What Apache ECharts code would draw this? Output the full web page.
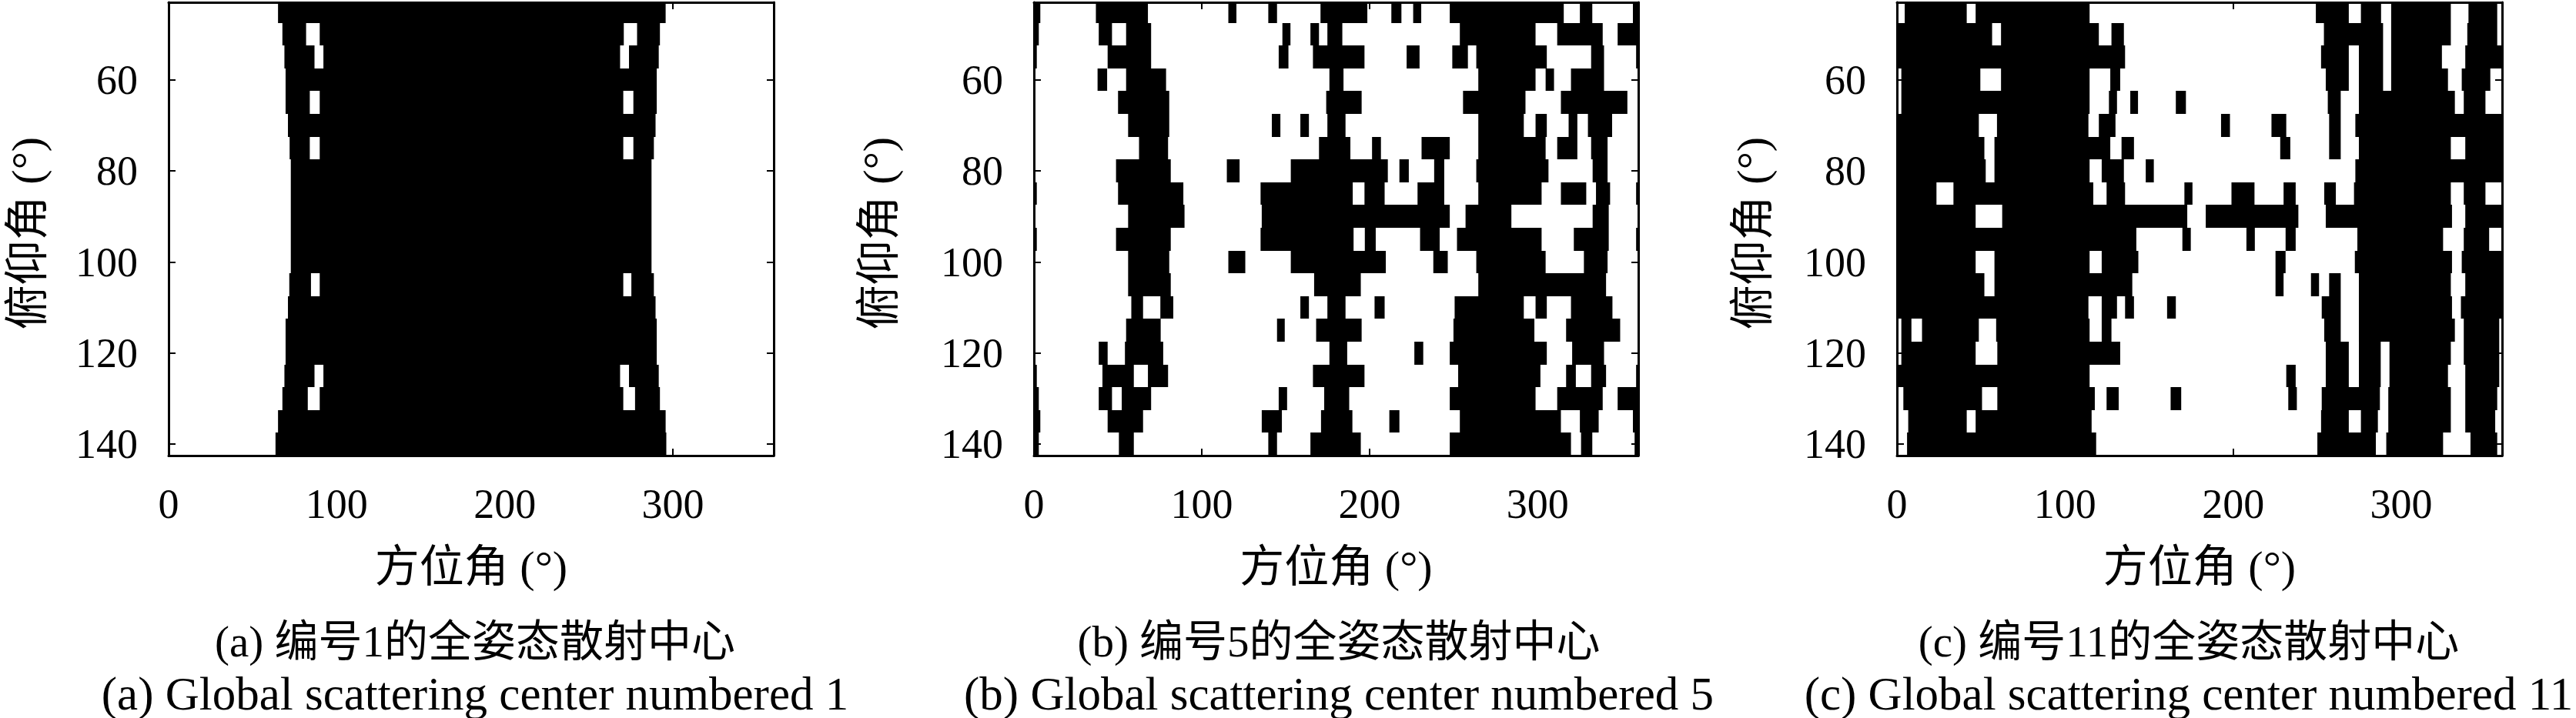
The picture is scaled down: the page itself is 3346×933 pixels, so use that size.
<!DOCTYPE html>
<html><head><meta charset="utf-8"><style>html,body{margin:0;padding:0;background:#fff}#c{width:3346px;height:933px}</style>
<script src="https://cdn.jsdelivr.net/npm/echarts@6/dist/echarts.min.js"></script></head>
<body><div id="c"></div><script>
const pitchRows=[45,50,55,60,65,70,75,80,85,90,95,100,105,110,115,120,125,130,135,140];
const azimuthTicks=[0,100,200,300];
const pitchTicks=[60,80,100,120,140];
const xName='方位角 (°)', yName='俯仰角 (°)';
const captionsZh=['(a) 编号1的全姿态散射中心','(b) 编号5的全姿态散射中心','(c) 编号11的全姿态散射中心'];
const captionsEn=['(a) Global scattering center numbered 1','(b) Global scattering center numbered 5','(c) Global scattering center numbered 11'];
// Black azimuth spans [start,end,start,end,...] for each pitch row
const panelA=[
[65.1,295.7],
[67.7,81.8,89.9,270.8,278.7,292.3],
[68.9,86.8,92.1,268.6,273.9,291.6],
[69.6,290.4],
[69.6,84,89.9,270.5,276.5,290.4],
[71,289.7],
[72,84,89.9,270.5,276.5,288.7],
[72.7,287.3],[72.7,287.3],[72.7,287.3],[72.7,287.3],[72.7,287.3],
[71.8,84.7,89.9,270.5,275.3,288.7],
[71,289.7],
[69.6,290.4],
[69.6,290.4],
[68.9,86.8,92.1,268.6,273.9,291.6],
[67.7,82.8,89.9,270.5,277.5,292.3],
[65.1,295.7],
[63.6,296.1]];
const panelB=[
[0,3.8,36.9,67.9,115.8,120.6,139.6,144.8,170.7,198.6,212.9,218.9,225.9,230.7,247.7,315.6,325.2,332.6,356.8,360],
[0,2.9,38.6,46.5,54.9,69.8,148,152.8,164.7,169.8,174.8,183.7,253.7,298.8,311.7,338.8,347.7,360],
[0,1.7,43.9,69.8,145.8,151.6,166.2,196.9,222,229.7,249.2,258.5,263.5,305.5,331.9,339.6,358.7,360],
[37.9,43.6,54.9,78.7,176,184.4,264.7,298.8,304.8,309.8,319.9,339.6],
[50.1,80.6,174.1,195.2,255.6,292.8,313.9,353.5],
[56.1,80.6,141.7,146.8,158.7,163.8,174.8,185.6,264.7,291.8,298.8,305.5,318.5,323.7,330,344.4],
[62.6,79.9,169.8,188.5,201.4,206.7,230.9,247.7,264.7,304.8,311.7,323.7,331.9,341.7],
[48.9,81.5,114.9,122.5,153,210.8,217.7,223.3,238.4,244.4,263.5,306.5,332.8,341.7],
[0,1.7,50.1,89,135,189.9,196.9,208.9,228.5,244.4,264.7,302.4,313.9,329,334.8,343.2,358.7,360],
[56.1,89.7,135.7,247.7,257.1,284.4,332.8,342.4],
[0,1.7,48.9,81.5,135,190.4,197.1,203.6,230,241.7,252,302.4,321.6,342.4,358.7,360],
[56.1,80.6,115.8,125.9,153,209.6,237.9,246.5,263.5,304.8,327.6,341.7],
[56.1,81.5,166.9,194.7,264.7,340.8],
[58,65,75.3,83,158.7,163.8,174.8,185.6,202.9,208.9,250.6,291.8,298.8,305.5,319.9,344.6],
[54.9,75.5,144.8,149.4,168.1,195.2,249.9,298.1,317,349.2],
[38.6,43.9,54.2,77,176,186.6,226.6,231.9,247.7,305.5,320.6,339.6],
[0,1.7,40.8,59.5,67.9,79.9,166.2,196.9,252.7,301.7,317,322.8,331.9,340.8,358.7,360],
[0,2.9,38.6,46.5,52.3,69.8,145.8,150.8,172.9,187.8,247.7,298.8,311.7,338.8,347.7,360],
[0,3.8,43.9,65,135.7,147.7,171,189.7,211.7,217.7,253.7,313.9,325.2,336.4,356.8,360],
[0,2.9,50.6,59.5,139.6,144.8,164.7,194.7,247.7,319.9,325.9,332.6,357.8,360]];
const panelC=[
[4.6,41.5,46.8,114.6,249.2,268.8,276,288,294,329.5,340,357.1],
[0,56.6,61.9,120.1,127.6,135,254,289.2,294,329.5,339.3,357.1],
[0,135.7,252.3,268.8,274.8,289.2,294,324.2,338.1,360],
[2.6,49.6,61.9,114.6,126.9,132.8,255.1,268.8,274.8,289.2,294,327.8,336,353],
[2.6,114.6,126.1,130.9,138.8,143.4,165.9,171.9,256.3,264,274.8,331.9,337.2,350.1],
[0,48.7,59.5,113.9,120.1,130,192.8,198.1,222.8,231.6,257.1,264,272.7,360],
[0,52,58,126.9,133.6,141,228,234,257.1,264,274.8,329.5,338.1,360],
[0,52.8,58,114.6,121.8,135,148,152.8,272.7,360],
[0,23.5,33.6,116.8,124.7,135.7,171,175.8,199,212.7,230,237.2,254.2,261.1,271.9,329.5,337.2,350.1],
[0,46.8,62.6,172.7,183.7,238.8,255.1,330.2,338.1,360],
[0,142.4,169.8,174.8,207.9,212.9,231.2,237.2,273.9,324.9,337.2,352.3],
[0,46.8,58,114.6,121.8,143.6,225.2,231.2,272.4,330.2,336,360],
[0,52,58,140,225.2,230,246.3,251.1,257.1,264,274.8,329.5,338.1,360],
[0,113.9,121.8,130.9,135.7,141,160.7,165.9,252.7,264,274.8,330.2,335.5,360],
[2.6,8.6,14.9,48.7,59,114.6,121.8,127.6,254.2,264,274.8,331.9,337.2,358.3],
[2.6,46.8,59.7,132.8,255.1,268.8,274.8,287.8,293,329.5,337.2,358.3],
[0,114.6,231.6,237.2,255.1,268.8,274.8,287.8,293,327.8,338.1,358.3],
[3.8,50.6,59.7,117.7,124.7,131.9,162.8,169.1,232.8,237.9,252.7,287.3,292.3,329.5,338.1,357.1],
[6.7,41.5,46.8,115.8,252.3,268.8,276,286.1,292.3,329.5,338.1,355.9],
[6,118.5,250.1,284.9,291.1,324.9,341.2,357.1]];
const panels=[panelA,panelB,panelC];

const FONT='"Liberation Serif","Noto Sans CJK SC",serif';
const plotLeft=[219,1343,2464], plotW=[786,785,786], plotTop=3, plotH=589;
const capX=[612,1734,2838], nameY=[40,1146,2281];
const tickStyle={show:true,inside:true,length:9,lineStyle:{color:'#000',width:2}};
const grids=[],xAxes=[],yAxes=[],series=[],titles=[];
function spans(rows){const out=[];rows.forEach((r,i)=>{for(let k=0;k<r.length;k+=2)out.push([pitchRows[i],r[k],r[k+1]]);});return out;}
panels.forEach((rows,p)=>{
  grids.push({left:plotLeft[p],top:plotTop,width:plotW[p],height:plotH,containLabel:false});
  const line={show:true,onZero:false,lineStyle:{color:'#000',width:3}};
  const xBase={type:'value',gridIndex:p,min:0,max:360,z:10,splitLine:{show:false},axisLine:line,
    axisTick:{...tickStyle,customValues:azimuthTicks}};
  const yBase={type:'value',gridIndex:p,min:43,max:142.5,inverse:true,z:10,splitLine:{show:false},axisLine:line,
    axisTick:{...tickStyle,customValues:pitchTicks}};
  xAxes.push({...xBase,position:'bottom',
    axisLabel:{show:true,customValues:azimuthTicks,fontFamily:FONT,fontSize:54,color:'#000',margin:40},
    name:xName,nameLocation:'middle',nameGap:120,nameTextStyle:{fontFamily:FONT,fontSize:58,color:'#000'}});
  xAxes.push({...xBase,position:'top',axisLabel:{show:false}});
  yAxes.push({...yBase,position:'left',
    axisLabel:{show:true,customValues:pitchTicks,fontFamily:FONT,fontSize:54,color:'#000',margin:40,verticalAlign:'top',lineHeight:54,padding:[-23,0,0,0]}});
  yAxes.push({...yBase,position:'right',axisLabel:{show:false}});
  series.push({type:'custom',xAxisIndex:p*2,yAxisIndex:p*2,z:2,clip:true,silent:true,animation:false,
    data:spans(rows),encode:{x:[1,2],y:0},
    renderItem:(params,api)=>{
      const a=api.coord([api.value(1),api.value(0)-2.5]);
      const b=api.coord([api.value(2),api.value(0)+2.5]);
      const y0=Math.round(a[1]),y1=Math.round(b[1]);
      return {type:'rect',shape:{x:a[0],y:y0,width:b[0]-a[0],height:y1-y0},style:{fill:'#000'}};
    }});
  titles.push({text:captionsZh[p],left:capX[p],top:805,textAlign:'center',textStyle:{fontFamily:FONT,fontSize:57,fontWeight:'normal',color:'#000'}});
  titles.push({text:captionsEn[p],left:capX[p],top:870,textAlign:'center',textStyle:{fontFamily:FONT,fontSize:61,fontWeight:'normal',color:'#000'}});
});
const chart=echarts.init(document.getElementById('c'),null,{renderer:'canvas'});
chart.setOption({animation:false,backgroundColor:'#fff',title:titles,grid:grids,xAxis:xAxes,yAxis:yAxes,series,
 graphic:nameY.map(x=>({type:'text',x:x,y:303,rotation:Math.PI/2,style:{text:yName,font:'58px '+FONT,fill:'#000',align:'center',verticalAlign:'middle'}}))});
</script></body></html>
